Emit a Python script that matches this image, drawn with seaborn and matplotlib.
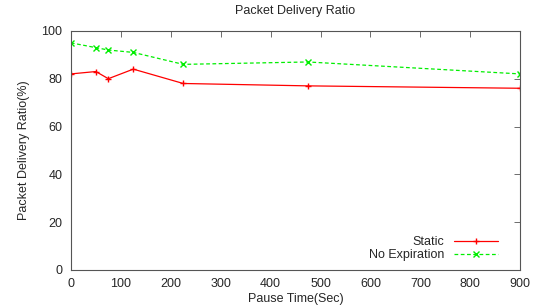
import pandas as pd
import seaborn as sns
import matplotlib.pyplot as plt

pause_time = [0, 50, 75, 125, 225, 475, 900]
static = [82, 83, 80, 84, 78, 77, 76]
no_expiration = [95, 93, 92, 91, 86, 87, 82]

sns.set_style('white')
plt.rcParams['font.family'] = ['Liberation Sans', 'DejaVu Sans']
plt.rcParams['font.size'] = 9

fig = plt.figure(figsize=(5.33, 3.06), dpi=100)
ax = fig.add_axes([0.133, 0.118, 0.843, 0.781])

sns.lineplot(x=pause_time, y=static, color='#ff0000', marker='+', linestyle='-',
             markersize=5, markeredgewidth=1, markeredgecolor='#ff0000',
             linewidth=0.9, label='Static', ax=ax)
sns.lineplot(x=pause_time, y=no_expiration, color='#00ee00', marker='x', linestyle=(0, (3, 2)),
             markersize=4, markeredgewidth=1, markeredgecolor='#00ee00',
             linewidth=0.9, label='No Expiration', ax=ax)

ax.set_xlim(0, 900)
ax.set_ylim(0, 100)
ax.set_xticks(range(0, 901, 100))
ax.set_yticks(range(0, 101, 20))
ax.tick_params(direction='in', top=True, right=True, length=4, width=0.6,
               color='#555555', labelsize=9, pad=6)
for s in ax.spines.values():
    s.set_color('#555555')
    s.set_linewidth(0.8)
ax.set_title('Packet Delivery Ratio', fontsize=9, pad=12)
ax.set_xlabel('Pause Time(Sec)', fontsize=9, labelpad=2)
ax.set_ylabel('Packet Delivery Ratio(%)', fontsize=9, labelpad=8)

leg = ax.legend(loc='lower right', frameon=False, markerfirst=False, fontsize=9,
                handlelength=3.5, borderpad=0.2, labelspacing=0.1,
                bbox_to_anchor=(0.97, 0.0))
for t in leg.get_texts():
    t.set_ha('right')

plt.savefig('out.png', dpi=100)
